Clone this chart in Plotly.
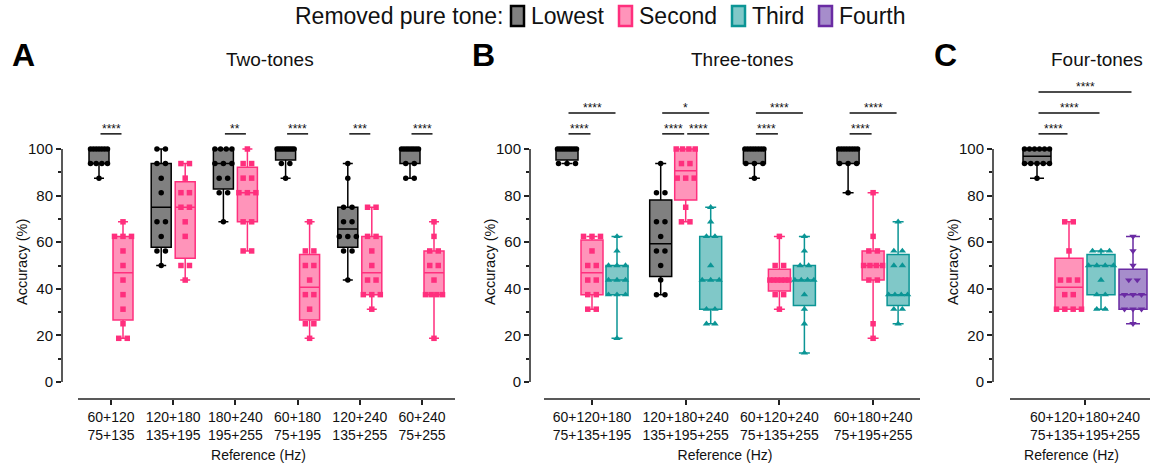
import numpy as np
import plotly.graph_objects as go

# ---------------- data (accuracy %, 12 listeners per box) ----------------
A_categories = ["60+120<br>75+135", "120+180<br>135+195", "180+240<br>195+255",
                "60+180<br>75+195", "120+240<br>135+255", "60+240<br>75+255"]
A_lowest = [
    [100, 100, 100, 100, 100, 100, 100, 93.75, 93.75, 93.75, 93.75, 87.5],
    [100, 100, 93.75, 93.75, 87.5, 81.25, 68.75, 68.75, 62.5, 56.25, 56.25, 50],
    [100, 100, 100, 100, 93.75, 93.75, 93.75, 87.5, 87.5, 81.25, 81.25, 68.75],
    [100, 100, 100, 100, 100, 100, 100, 100, 100, 93.75, 93.75, 87.5],
    [93.75, 87.5, 75, 75, 68.75, 68.75, 62.5, 62.5, 62.5, 56.25, 56.25, 43.75],
    [100, 100, 100, 100, 100, 100, 100, 100, 93.75, 93.75, 87.5, 87.5],
]
A_second = [
    [68.75, 62.5, 62.5, 62.5, 56.25, 50, 43.75, 37.5, 31.25, 25, 18.75, 18.75],
    [93.75, 93.75, 87.5, 81.25, 81.25, 75, 75, 68.75, 62.5, 50, 50, 43.75],
    [100, 93.75, 93.75, 87.5, 87.5, 81.25, 81.25, 81.25, 68.75, 68.75, 56.25, 56.25],
    [68.75, 56.25, 56.25, 50, 50, 43.75, 37.5, 37.5, 31.25, 25, 25, 18.75],
    [75, 75, 62.5, 62.5, 56.25, 50, 43.75, 43.75, 37.5, 37.5, 37.5, 31.25],
    [68.75, 62.5, 56.25, 56.25, 50, 50, 43.75, 37.5, 37.5, 37.5, 37.5, 18.75],
]

B_categories = ["60+120+180<br>75+135+195", "120+180+240<br>135+195+255",
                "60+120+240<br>75+135+255", "60+180+240<br>75+195+255"]
B_lowest = [
    [100, 100, 100, 100, 100, 100, 100, 100, 100, 93.75, 93.75, 93.75],
    [93.75, 81.25, 81.25, 68.75, 68.75, 62.5, 56.25, 56.25, 50, 43.75, 37.5, 37.5],
    [100, 100, 100, 100, 100, 100, 100, 100, 93.75, 93.75, 93.75, 87.5],
    [100, 100, 100, 100, 100, 100, 100, 100, 93.75, 93.75, 93.75, 81.25],
]
B_second = [
    [62.5, 62.5, 62.5, 56.25, 50, 50, 43.75, 43.75, 37.5, 37.5, 31.25, 31.25],
    [100, 100, 100, 100, 93.75, 93.75, 87.5, 87.5, 87.5, 75, 68.75, 68.75],
    [62.5, 50, 50, 43.75, 43.75, 43.75, 43.75, 43.75, 43.75, 37.5, 37.5, 31.25],
    [81.25, 62.5, 56.25, 56.25, 50, 50, 50, 50, 43.75, 43.75, 25, 18.75],
]
B_third = [
    [62.5, 56.25, 50, 50, 50, 43.75, 43.75, 43.75, 37.5, 37.5, 37.5, 18.75],
    [75, 68.75, 62.5, 62.5, 50, 43.75, 43.75, 43.75, 31.25, 31.25, 25, 25],
    [62.5, 56.25, 50, 50, 43.75, 43.75, 43.75, 43.75, 37.5, 31.25, 25, 12.5],
    [68.75, 56.25, 56.25, 50, 50, 37.5, 37.5, 37.5, 37.5, 31.25, 31.25, 25],
]

C_categories = ["60+120+180+240<br>75+135+195+255"]
C_lowest = [[100, 100, 100, 100, 100, 100, 93.75, 93.75, 93.75, 93.75, 93.75, 87.5]]
C_second = [[68.75, 68.75, 56.25, 43.75, 43.75, 43.75, 37.5, 37.5, 31.25, 31.25, 31.25, 31.25]]
C_third = [[56.25, 56.25, 56.25, 50, 50, 50, 50, 43.75, 37.5, 37.5, 31.25, 31.25]]
C_fourth = [[62.5, 56.25, 50, 43.75, 43.75, 37.5, 37.5, 37.5, 31.25, 31.25, 31.25, 25]]

series_names = ["Lowest", "Second", "Third", "Fourth"]

# significance: (category index, series a, series b, bracket level, label)
A_sig = [(0, 0, 1, 1, "****"), (2, 0, 1, 1, "**"), (3, 0, 1, 1, "****"),
         (4, 0, 1, 1, "***"), (5, 0, 1, 1, "****")]
B_sig = [(0, 0, 1, 1, "****"), (0, 0, 2, 2, "****"),
         (1, 0, 1, 1, "****"), (1, 1, 2, 1, "****"), (1, 0, 2, 2, "*"),
         (2, 0, 1, 1, "****"), (2, 0, 2, 2, "****"),
         (3, 0, 1, 1, "****"), (3, 0, 2, 2, "****")]
C_sig = [(0, 0, 1, 1, "****"), (0, 0, 2, 2, "****"), (0, 0, 3, 3, "****")]

# ---------------- styling ----------------
FONT = "Liberation Sans, Arial, sans-serif"
FILL = {"Lowest": "#808080", "Second": "#ff94ba", "Third": "#80c8c8", "Fourth": "#a68dcb"}
LINE = {"Lowest": "#000000", "Second": "#ff2f7d", "Third": "#0b9595", "Fourth": "#6a2ba3"}
SYMBOL = {"Lowest": "circle", "Second": "square", "Third": "triangle-up", "Fourth": "triangle-down"}
MSIZE = {"Lowest": 5.5, "Second": 5.5, "Third": 6.5, "Fourth": 6.5}
AXC = "#222222"

W, H = 1153, 467
PLOT_TOP, PLOT_BOTTOM = 80, 399
Y0_PX, PX_PER_Y = 382, 2.33
Y_RANGE = [-(PLOT_BOTTOM - Y0_PX) / PX_PER_Y, (Y0_PX - PLOT_TOP) / PX_PER_Y]
LEVEL_Y = {1: 106.5, 2: 115.5, 3: 124.5}

# legend layout (pixels)
LEG_Y = 16
LEG_TITLE_RIGHT = 505
LEG_ICON_X = [511, 619, 732, 819]
LEG_ICON_W, LEG_ICON_H = 13, 20

panels = [
    dict(letter="A", title="Two-tones", cats=A_categories,
         series=[("Lowest", A_lowest), ("Second", A_second)],
         left=62, right=455, origin=111, unit=62.2, offsets=[-12, 12], bw=20,
         axis_start=78, sig=A_sig, title_x=270, letter_x=23),
    dict(letter="B", title="Three-tones", cats=B_categories,
         series=[("Lowest", B_lowest), ("Second", B_second), ("Third", B_third)],
         left=530, right=920, origin=592, unit=93.7, offsets=[-25, 0, 25], bw=22,
         axis_start=544, sig=B_sig, title_x=742, letter_x=483),
    dict(letter="C", title="Four-tones", cats=C_categories,
         series=[("Lowest", C_lowest), ("Second", C_second), ("Third", C_third), ("Fourth", C_fourth)],
         left=993, right=1150, origin=1085, unit=100.0, offsets=[-48, -16, 16, 48], bw=28,
         axis_start=1010, sig=C_sig, title_x=1097, letter_x=945),
]


def box_stats(vals):
    a = np.asarray(vals, dtype=float)
    q1, med, q3 = np.percentile(a, [25, 50, 75], method="weibull")
    return a.min(), q1, med, q3, a.max()


fig = go.Figure()
shapes, annotations = [], []
layout_axes = {}

for p_i, p in enumerate(panels):
    sfx = "" if p_i == 0 else str(p_i + 1)
    xa, ya = "x" + sfx, "y" + sfx
    unit = p["unit"]
    xr = [(p["left"] - p["origin"]) / unit, (p["right"] - p["origin"]) / unit]
    ncat = len(p["cats"])
    bw_u = p["bw"] / unit

    # boxes
    for s_i, (name, groups) in enumerate(p["series"]):
        pos = [c + p["offsets"][s_i] / unit for c in range(ncat)]
        st = [box_stats(g) for g in groups]
        fig.add_trace(go.Box(
            x=pos, lowerfence=[s[0] for s in st], q1=[s[1] for s in st],
            median=[s[2] for s in st], q3=[s[3] for s in st],
            upperfence=[s[4] for s in st], width=bw_u, whiskerwidth=0.5,
            boxpoints=False, fillcolor=FILL[name],
            line=dict(color=LINE[name], width=1.5),
            name=name, showlegend=False,
            xaxis=xa, yaxis=ya, hoverinfo="skip"))
    # points (spread horizontally where values coincide)
    for s_i, (name, groups) in enumerate(p["series"]):
        px_list, py_list = [], []
        for c, g in enumerate(groups):
            centre = c + p["offsets"][s_i] / unit
            vals, counts = np.unique(np.asarray(g, dtype=float), return_counts=True)
            for v, k in zip(vals, counts):
                sp = 0 if k == 1 else min(8.5, (p["bw"] + 2 - 5) / (k - 1))
                for j in range(k):
                    px_list.append(centre + (j - (k - 1) / 2) * sp / unit)
                    py_list.append(v)
        fig.add_trace(go.Scatter(
            x=px_list, y=py_list, mode="markers",
            marker=dict(symbol=SYMBOL[name], size=MSIZE[name], color=LINE[name],
                        line=dict(width=0)),
            showlegend=False, xaxis=xa, yaxis=ya, hoverinfo="skip"))

    # significance brackets
    for (c, sa, sb, lev, lab) in p["sig"]:
        xa0 = c + (p["offsets"][sa] + 1.5) / unit
        xb0 = c + (p["offsets"][sb] - 1.5) / unit
        yl = LEVEL_Y[lev]
        shapes.append(dict(type="line", xref=xa, yref=ya, x0=xa0, x1=xb0, y0=yl, y1=yl,
                           line=dict(color="#111", width=1.5)))
        annotations.append(dict(x=(xa0 + xb0) / 2, y=yl, xref=xa, yref=ya, text=lab,
                                showarrow=False, yanchor="bottom", yshift=-4,
                                font=dict(family=FONT, size=12, color="#111")))

    # axis lines (offset Prism style)
    shapes.append(dict(type="line", xref=xa + " domain", yref=ya, x0=0, x1=0, y0=0, y1=100,
                       line=dict(color=AXC, width=1.5)))
    shapes.append(dict(type="line", xref=xa, yref=ya + " domain",
                       x0=(p["axis_start"] - p["origin"]) / unit, x1=xr[1], y0=0, y1=0,
                       line=dict(color=AXC, width=1.5)))

    xkey = "xaxis" + sfx
    ykey = "yaxis" + sfx
    layout_axes[xkey] = dict(
        domain=[p["left"] / W, p["right"] / W], range=xr, anchor=ya,
        tickmode="array", tickvals=list(range(ncat)), ticktext=p["cats"],
        ticks="outside", ticklen=5, tickwidth=1.5, tickcolor=AXC,
        showline=False, showgrid=False, zeroline=False,
        tickfont=dict(family=FONT, size=14, color="#111"),
        title=dict(text="Reference (Hz)", font=dict(family=FONT, size=14, color="#111"),
                   standoff=8))
    layout_axes[ykey] = dict(
        domain=[1 - PLOT_BOTTOM / H, 1 - PLOT_TOP / H], range=Y_RANGE, anchor=xa,
        tickmode="array", tickvals=[0, 20, 40, 60, 80, 100],
        ticks="outside", ticklen=5, tickwidth=1.5, tickcolor=AXC,
        minor=dict(tickmode="array", tickvals=[10, 30, 50, 70, 90], ticks="outside",
                   ticklen=3, tickwidth=1.5, tickcolor=AXC),
        showline=False, showgrid=False, zeroline=False,
        tickfont=dict(family=FONT, size=15, color="#111"))

    # y-axis title
    annotations.append(dict(x=(p["left"] - 40) / W, y=1 - 262 / H, xref="paper", yref="paper",
                            text="Accuracy (%)", textangle=-90, showarrow=False,
                            xanchor="center", yanchor="middle",
                            font=dict(family=FONT, size=14.5, color="#111")))
    # panel title and letter
    annotations.append(dict(x=p["title_x"] / W, y=1 - 60 / H, xref="paper", yref="paper",
                            text=p["title"], showarrow=False, xanchor="center", yanchor="middle",
                            font=dict(family=FONT, size=19, color="#111")))
    annotations.append(dict(x=p["letter_x"] / W, y=1 - 55 / H, xref="paper", yref="paper",
                            text="<b>" + p["letter"] + "</b>", showarrow=False,
                            xanchor="center", yanchor="middle",
                            font=dict(family=FONT, size=32, color="#000")))

# legend (drawn manually to match the compact Prism layout)
annotations.append(dict(x=LEG_TITLE_RIGHT / W, y=1 - LEG_Y / H, xref="paper", yref="paper",
                        text="Removed pure tone:", showarrow=False, xanchor="right",
                        yanchor="middle", font=dict(family=FONT, size=23, color="#111")))
for name, ix in zip(series_names, LEG_ICON_X):
    shapes.append(dict(type="rect", xref="paper", yref="paper",
                       x0=ix / W, x1=(ix + LEG_ICON_W) / W,
                       y0=1 - (LEG_Y + LEG_ICON_H / 2) / H, y1=1 - (LEG_Y - LEG_ICON_H / 2) / H,
                       fillcolor=FILL[name], line=dict(color=LINE[name], width=2.5)))
    annotations.append(dict(x=(ix + LEG_ICON_W + 5) / W, y=1 - LEG_Y / H, xref="paper",
                            yref="paper", text=name, showarrow=False, xanchor="left",
                            yanchor="middle", font=dict(family=FONT, size=23, color="#111")))

fig.update_layout(
    width=W, height=H, margin=dict(l=0, r=0, t=0, b=0),
    paper_bgcolor="white", plot_bgcolor="white",
    font=dict(family=FONT, color="#111"),
    boxmode="overlay", showlegend=False,
    shapes=shapes, annotations=annotations,
    **layout_axes,
)

fig.write_html("out.html")
